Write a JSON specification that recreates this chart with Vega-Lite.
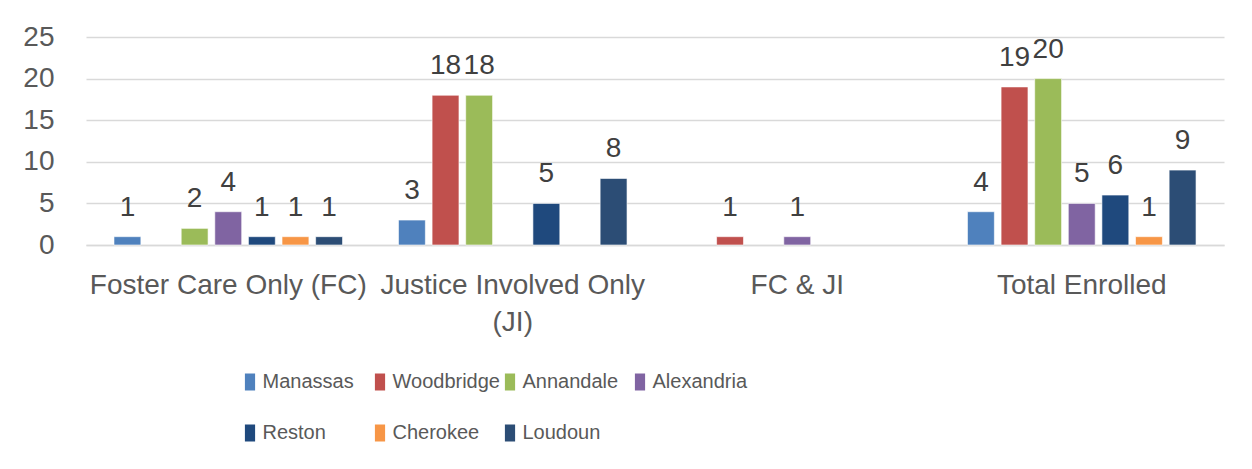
{
  "$schema": "https://vega.github.io/schema/vega-lite/v6.json",
  "width": 1138,
  "height": 208,
  "autosize": {"type": "none"},
  "padding": {"left": 86, "top": 37, "right": 28, "bottom": 224},
  "background": "white",
  "config": {
    "font": "Liberation Sans",
    "view": {"stroke": null}
  },
  "data": {
    "values": [
      {"category": "Foster Care Only (FC)", "site": "Manassas", "value": 1},
      {"category": "Foster Care Only (FC)", "site": "Annandale", "value": 2},
      {"category": "Foster Care Only (FC)", "site": "Alexandria", "value": 4},
      {"category": "Foster Care Only (FC)", "site": "Reston", "value": 1},
      {"category": "Foster Care Only (FC)", "site": "Cherokee", "value": 1},
      {"category": "Foster Care Only (FC)", "site": "Loudoun", "value": 1},
      {"category": "Justice Involved Only (JI)", "site": "Manassas", "value": 3},
      {"category": "Justice Involved Only (JI)", "site": "Woodbridge", "value": 18},
      {"category": "Justice Involved Only (JI)", "site": "Annandale", "value": 18},
      {"category": "Justice Involved Only (JI)", "site": "Reston", "value": 5},
      {"category": "Justice Involved Only (JI)", "site": "Loudoun", "value": 8},
      {"category": "FC & JI", "site": "Woodbridge", "value": 1},
      {"category": "FC & JI", "site": "Alexandria", "value": 1},
      {"category": "Total Enrolled", "site": "Manassas", "value": 4},
      {"category": "Total Enrolled", "site": "Woodbridge", "value": 19},
      {"category": "Total Enrolled", "site": "Annandale", "value": 20},
      {"category": "Total Enrolled", "site": "Alexandria", "value": 5},
      {"category": "Total Enrolled", "site": "Reston", "value": 6},
      {"category": "Total Enrolled", "site": "Cherokee", "value": 1},
      {"category": "Total Enrolled", "site": "Loudoun", "value": 9}
    ]
  },
  "encoding": {
    "x": {
      "field": "category",
      "type": "nominal",
      "sort": ["Foster Care Only (FC)", "Justice Involved Only (JI)", "FC & JI", "Total Enrolled"],
      "scale": {"paddingInner": 0.173, "paddingOuter": 0.0865},
      "axis": {
        "title": null,
        "labelAngle": 0,
        "labelFont": "Liberation Sans",
        "labelFontSize": 28,
        "labelColor": "#595959",
        "labelPadding": 26,
        "labelLimit": 0,
        "labelLineHeight": 37,
        "labelExpr": "datum.value == 'Justice Involved Only (JI)' ? ['Justice Involved Only', '(JI)'] : datum.value",
        "ticks": false,
        "domainColor": "#d9d9d9",
        "domainWidth": 1.5,
        "grid": false
      }
    },
    "xOffset": {
      "field": "site",
      "type": "nominal",
      "scale": {
        "domain": ["Manassas", "Woodbridge", "Annandale", "Alexandria", "Reston", "Cherokee", "Loudoun"],
        "paddingInner": 0.2,
        "paddingOuter": 0.1
      }
    },
    "y": {
      "field": "value",
      "type": "quantitative",
      "scale": {"domain": [0, 25], "nice": false},
      "axis": {
        "title": null,
        "values": [0, 5, 10, 15, 20, 25],
        "labelFont": "Liberation Sans",
        "labelFontSize": 28,
        "labelColor": "#595959",
        "labelPadding": 32,
        "ticks": false,
        "domain": false,
        "gridColor": "#d9d9d9",
        "gridWidth": 1.5
      }
    }
  },
  "layer": [
    {
      "mark": {"type": "bar", "stroke": "white", "strokeWidth": 0.6},
      "encoding": {
        "color": {
          "field": "site",
          "type": "nominal",
          "scale": {
            "domain": ["Manassas", "Woodbridge", "Annandale", "Alexandria", "Reston", "Cherokee", "Loudoun"],
            "range": ["#4F81BD", "#C0504D", "#9BBB59", "#8064A2", "#1F497D", "#F79646", "#2C4D75"]
          },
          "legend": {
            "title": null,
            "orient": "none",
            "legendX": 154,
            "legendY": 335,
            "direction": "horizontal",
            "columns": 4,
            "gridAlign": "all",
            "symbolType": "M-0.6,-1H0.6V1H-0.6Z",
            "symbolSize": 289,
            "symbolStrokeWidth": 0,
            "labelFont": "Liberation Sans",
            "labelFontSize": 20,
            "labelColor": "#595959",
            "labelOffset": 2.5,
            "columnPadding": 0,
            "rowPadding": 31,
            "labelLimit": 0
          }
        }
      }
    },
    {
      "mark": {"type": "text", "baseline": "alphabetic", "dy": -21, "fontSize": 28, "color": "#404040", "font": "Liberation Sans"},
      "encoding": {
        "text": {"field": "value", "type": "quantitative"}
      }
    }
  ]
}
